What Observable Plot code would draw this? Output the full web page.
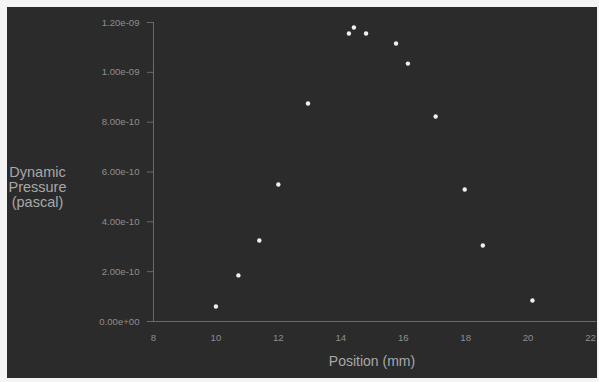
<!DOCTYPE html>
<html><head><meta charset="utf-8">
<script src="https://cdn.jsdelivr.net/npm/d3@7"></script>
<script src="https://cdn.jsdelivr.net/npm/@observablehq/plot@0.6"></script>
<style>
html,body{margin:0;padding:0;background:#f4f4f4;}
#wrap{position:absolute;left:7px;top:7px;width:590px;height:371px;background:#2b2b2b;}
svg{display:block;}
</style></head>
<body><div id="wrap"></div>
<script>
const positions = [10.0, 10.72, 11.39, 12.0, 12.95, 14.26, 14.42, 14.81, 15.77, 16.15, 17.04, 17.97, 18.55, 20.14];
const pressures = [6.0e-11, 1.85e-10, 3.25e-10, 5.5e-10, 8.75e-10, 1.156e-9, 1.18e-9, 1.156e-9, 1.116e-9, 1.035e-9, 8.23e-10, 5.3e-10, 3.05e-10, 8.4e-11];
const xTicks = [8, 10, 12, 14, 16, 18, 20, 22];
const yTicks = [0, 2e-10, 4e-10, 6e-10, 8e-10, 1.0e-9, 1.2e-9];
const yTitle = "Dynamic\nPressure\n(pascal)";
const xTitle = "Position (mm)";

const data = positions.map((p, i) => ({x: p, y: pressures[i]}));
const fmtE = d => d3.format(".2e")(d).replace(/e([+-])(\d)$/, "e$10$2");

const chart = Plot.plot({
  width: 590, height: 371,
  marginLeft: 146, marginRight: 7, marginTop: 15, marginBottom: 57,
  style: {background: "#2b2b2b", color: "#8e8e8e", fontFamily: "Liberation Sans, Arial, sans-serif", fontSize: "9.6px"},
  x: {domain: [8, 22], axis: null},
  y: {domain: [0, 1.2e-9], axis: null},
  marks: [
    Plot.ruleY([0], {stroke: "#6a6a6a", strokeWidth: 1, x1: 8, x2: 22.2}),
    Plot.ruleX([8], {stroke: "#6a6a6a", strokeWidth: 1}),
    Plot.axisY({ticks: yTicks, tickFormat: fmtE, tickSize: 6, tickPadding: 8, stroke: "#6a6a6a", fill: "#8e8e8e", label: null}),
    Plot.axisX({ticks: xTicks, tickFormat: d => String(d), tickSize: 0, tickPadding: 13, fill: "#8e8e8e", label: null}),
    Plot.dot(data, {x: "x", y: "y", r: 2.2, fill: "#f0f0f0", stroke: "none"}),
    Plot.text([yTitle], {frameAnchor: "left", dx: -116, dy: 15, textAnchor: "middle", lineHeight: 1.05, fontSize: 14.5, fill: "#a8a8a8"}),
    Plot.text([xTitle], {frameAnchor: "bottom", dy: 44, textAnchor: "middle", fontSize: 14, fill: "#a8a8a8"})
  ]
});
document.getElementById("wrap").appendChild(chart);
</script></body></html>
